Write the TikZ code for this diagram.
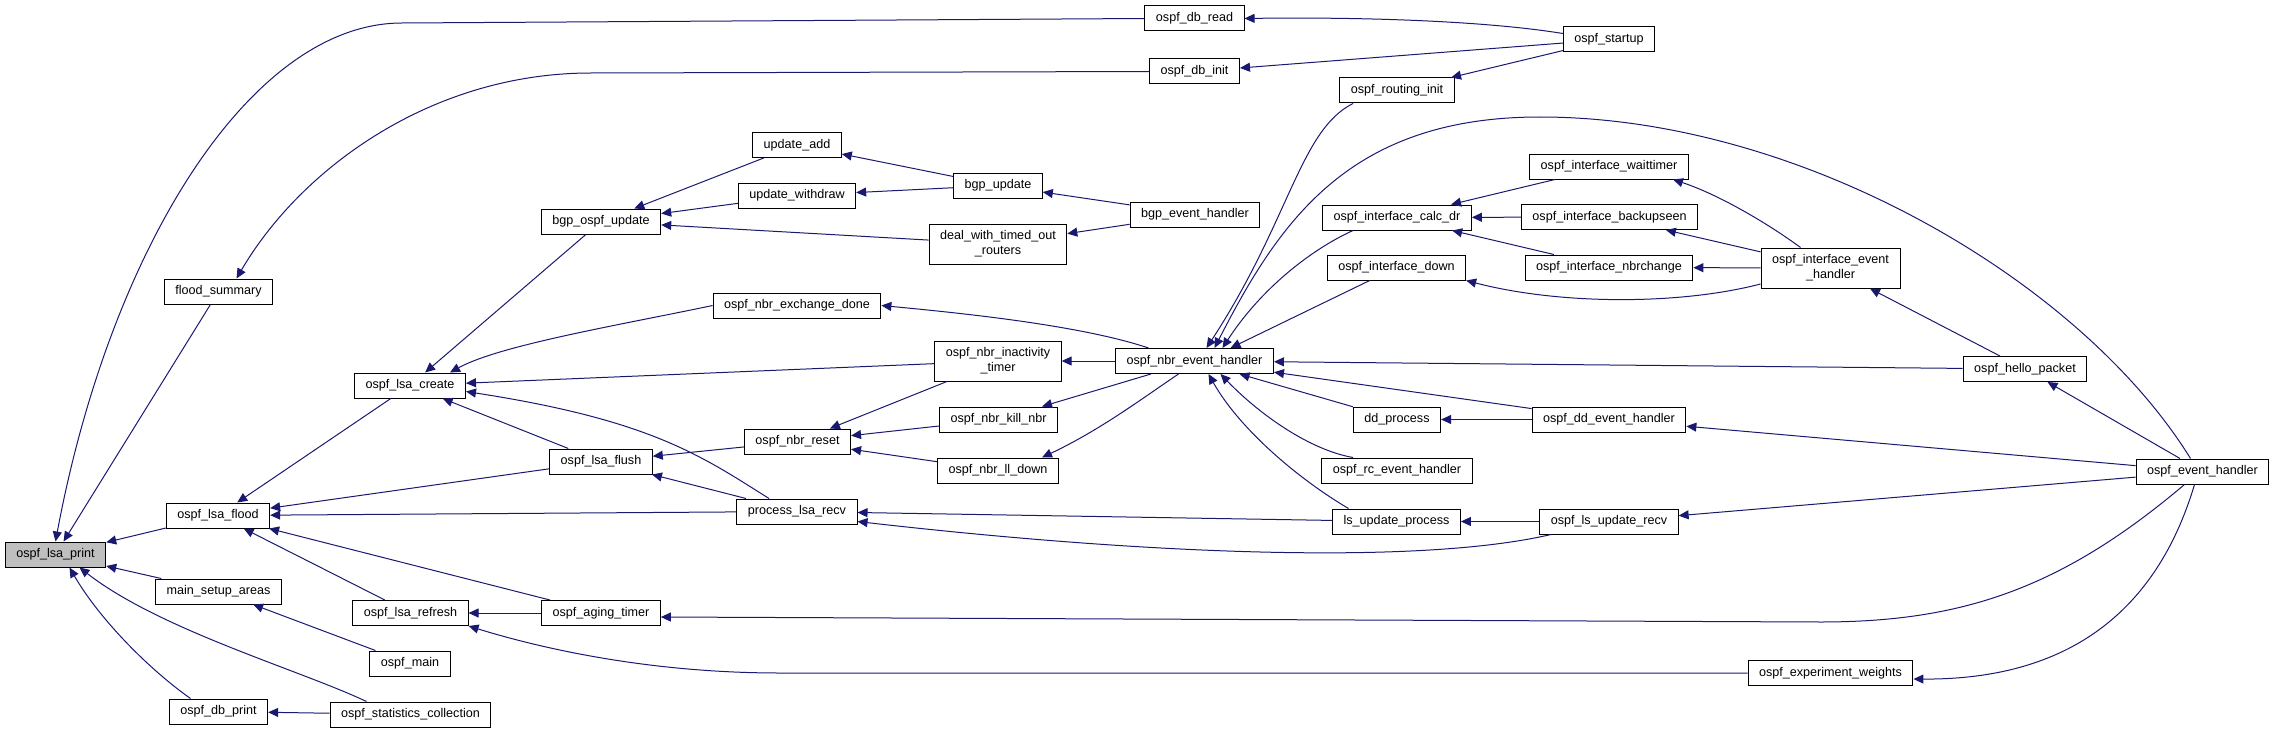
\documentclass[tikz,border=0pt]{standalone}
\usepackage{fontspec}
\setmainfont{Liberation Sans}
\usetikzlibrary{arrows.meta}
\definecolor{edgeblue}{HTML}{191970}
\definecolor{selgray}{HTML}{BFBFBF}
\tikzset{
  fn/.style={draw=black, line width=0.5pt, fill=white, inner xsep=5.5pt, inner ysep=0pt,
    minimum height=12.5pt, font=\fontsize{6.3pt}{7.6pt}\selectfont},
  fntwo/.style={fn, align=center, minimum height=20pt},
  call/.style={draw=edgeblue, line width=0.5pt, -{Triangle[length=5pt,width=4.5pt]}},
}
\begin{document}
\begin{tikzpicture}[x=0.5pt, y=-0.5pt]
  \useasboundingbox (0,0) rectangle (2275,733);
  \node[fn, fill=selgray] (lsaprint) at (55.5,554.5) {ospf\_lsa\_print};
  \node[fn] (floodsum) at (218.5,291.5) {flood\_summary};
  \node[fn] (lsaflood) at (218,515.5) {ospf\_lsa\_flood};
  \node[fn] (setup) at (218.5,591.5) {main\_setup\_areas};
  \node[fn] (dbprint) at (218.5,711.5) {ospf\_db\_print};
  \node[fn] (lsacreate) at (410,385.5) {ospf\_lsa\_create};
  \node[fn] (lsarefresh) at (410.5,613) {ospf\_lsa\_refresh};
  \node[fn] (ospfmain) at (410,663.5) {ospf\_main};
  \node[fn] (statcoll) at (410.5,714.5) {ospf\_statistics\_collection};
  \node[fn] (bgpospf) at (601,221.5) {bgp\_ospf\_update};
  \node[fn] (lsaflush) at (601,461.5) {ospf\_lsa\_flush};
  \node[fn] (agingtimer) at (601,613) {ospf\_aging\_timer};
  \node[fn] (updadd) at (797,145) {update\_add};
  \node[fn] (updwithdraw) at (797,195.5) {update\_withdraw};
  \node[fn] (exchdone) at (797,305.5) {ospf\_nbr\_exchange\_done};
  \node[fn] (nbrreset) at (797.5,441.5) {ospf\_nbr\_reset};
  \node[fn] (lsarecv) at (797,511.5) {process\_lsa\_recv};
  \node[fn] (bgpupdate) at (998,185.5) {bgp\_update};
  \node[fntwo] (dealrouters) at (998,244) {deal\_with\_timed\_out\\\_routers};
  \node[fntwo] (inactimer) at (998,361) {ospf\_nbr\_inactivity\\\_timer};
  \node[fn] (killnbr) at (998.5,419.5) {ospf\_nbr\_kill\_nbr};
  \node[fn] (lldown) at (998,470.5) {ospf\_nbr\_ll\_down};
  \node[fn] (dbread) at (1194.5,18.5) {ospf\_db\_read};
  \node[fn] (dbinit) at (1194.5,71.5) {ospf\_db\_init};
  \node[fn] (bgpevent) at (1195,214.5) {bgp\_event\_handler};
  \node[fn] (nbrevent) at (1194.5,361) {ospf\_nbr\_event\_handler};
  \node[fn] (routinit) at (1397,90.5) {ospf\_routing\_init};
  \node[fn] (calcdr) at (1397,217.5) {ospf\_interface\_calc\_dr};
  \node[fn] (ifdown) at (1396.5,267.5) {ospf\_interface\_down};
  \node[fn] (ddproc) at (1397,419.5) {dd\_process};
  \node[fn] (rcevent) at (1397,470.5) {ospf\_rc\_event\_handler};
  \node[fn] (lsupdproc) at (1396.5,521.5) {ls\_update\_process};
  \node[fn] (startup) at (1609,39.5) {ospf\_startup};
  \node[fn] (waittimer) at (1609,166.5) {ospf\_interface\_waittimer};
  \node[fn] (backupseen) at (1609.5,217) {ospf\_interface\_backupseen};
  \node[fn] (nbrchange) at (1609,267.5) {ospf\_interface\_nbrchange};
  \node[fn] (ddevent) at (1609,419.5) {ospf\_dd\_event\_handler};
  \node[fn] (lsupdrecv) at (1609,521.5) {ospf\_ls\_update\_recv};
  \node[fntwo] (ifevent) at (1830.5,268) {ospf\_interface\_event\\\_handler};
  \node[fn] (expweights) at (1830.5,673) {ospf\_experiment\_weights};
  \node[fn] (hello) at (2025,369) {ospf\_hello\_packet};
  \node[fn] (ospfevent) at (2202.5,471.5) {ospf\_event\_handler};

  \draw[call] (dbread.west) -- (402,23) .. controls (250,23) and (110,250) .. (lsaprint.north);
  \draw[call] (floodsum) -- (lsaprint);
  \draw[call] (lsaflood) -- (lsaprint);
  \draw[call] (setup) -- (lsaprint);
  \draw[call] ([xshift=-14pt]dbprint.north) .. controls (150,670) and (100,620) .. ([xshift=7pt]lsaprint.south);
  \draw[call] ([xshift=-22pt]statcoll.north) .. controls (300,670) and (160,630) .. ([xshift=12pt]lsaprint.south);
  \draw[call] (statcoll) -- (dbprint);
  \draw[call] (ospfmain) -- (setup);
  \draw[call] (dbinit.west) -- (591,73) .. controls (430,73) and (300,170) .. ([xshift=9pt]floodsum.north);

  \draw[call] (lsacreate) -- (lsaflood);
  \draw[call] (lsaflush) -- (lsaflood);
  \draw[call] (lsarecv) -- (lsaflood);
  \draw[call] (lsarefresh) -- (lsaflood);
  \draw[call] (agingtimer) -- (lsaflood);
  \draw[call] (agingtimer) -- (lsarefresh);
  \draw[call] (expweights.west) -- (780,673) .. controls (640,673) and (530,645) .. (lsarefresh.south east);

  \draw[call] (bgpospf) -- (lsacreate);
  \draw[call] (exchdone.west) .. controls (620,325) and (500,345) .. ([xshift=20pt]lsacreate.north);
  \draw[call] (inactimer) -- (lsacreate);
  \draw[call] (lsaflush) -- (lsacreate);
  \draw[call] ([xshift=-14pt]lsarecv.north) .. controls (700,455) and (650,420) .. ([yshift=-3pt]lsacreate.east);
  \draw[call] (nbrreset) -- (lsaflush);
  \draw[call] (lsarecv) -- (lsaflush);

  \draw[call] (updadd) -- (bgpospf);
  \draw[call] (updwithdraw) -- (bgpospf);
  \draw[call] (dealrouters) -- (bgpospf);
  \draw[call] (bgpupdate) -- (updadd);
  \draw[call] (bgpupdate) -- (updwithdraw);
  \draw[call] (bgpevent) -- (bgpupdate);
  \draw[call] (bgpevent) -- (dealrouters);

  \draw[call] ([xshift=-23pt]nbrevent.north) .. controls (1080,325) and (960,313) .. (exchdone.east);
  \draw[call] (nbrevent) -- (inactimer);
  \draw[call] (inactimer) -- (nbrreset);
  \draw[call] (killnbr) -- (nbrreset);
  \draw[call] (lldown) -- (nbrreset);
  \draw[call] (nbrevent) -- (killnbr);
  \draw[call] ([xshift=-8pt]nbrevent.south) .. controls (1140,400) and (1100,430) .. ([xshift=22pt]lldown.north);

  \draw[call] ([xshift=-22pt]routinit.south) .. controls (1300,130) and (1290,220) .. ([xshift=6pt]nbrevent.north);
  \draw[call] ([xshift=-6pt]ospfevent.north) .. controls (2080,280) and (1800,117) .. (1540,117)
    .. controls (1350,117) and (1280,220) .. ([xshift=10pt]nbrevent.north);
  \draw[call] ([xshift=-22pt]calcdr.south) .. controls (1310,250) and (1260,290) .. ([xshift=14pt]nbrevent.north);
  \draw[call] (ifdown) -- ([xshift=18pt]nbrevent.north);
  \draw[call] (hello) -- (nbrevent);
  \draw[call] (ddevent) -- (nbrevent);
  \draw[call] (ddproc) -- (nbrevent);
  \draw[call] ([xshift=-22pt]rcevent.north) .. controls (1310,450) and (1260,415) .. ([xshift=13pt]nbrevent.south);
  \draw[call] ([xshift=-24pt]lsupdproc.north) .. controls (1300,480) and (1240,430) .. ([xshift=7pt]nbrevent.south);

  \draw[call] ([yshift=3pt]startup.west) .. controls (1480,20) and (1350,17) .. (dbread.east);
  \draw[call] (startup) -- (dbinit);
  \draw[call] (startup) -- (routinit);
  \draw[call] (waittimer) -- (calcdr);
  \draw[call] (backupseen) -- (calcdr);
  \draw[call] (nbrchange) -- (calcdr);
  \draw[call] ([yshift=-8pt]ifevent.west) .. controls (1680,305) and (1560,305) .. (ifdown.south east);
  \draw[call] ([xshift=-15pt]ifevent.north) .. controls (1770,225) and (1720,195) .. ([xshift=32pt]waittimer.south);
  \draw[call] (ifevent) -- (backupseen);
  \draw[call] (ifevent) -- (nbrchange);
  \draw[call] (hello) -- (ifevent);
  \draw[call] (ospfevent) -- (hello);
  \draw[call] (ospfevent) -- (ddevent);
  \draw[call] (ddevent) -- (ddproc);

  \draw[call] (lsupdproc) -- (lsarecv);
  \draw[call] ([xshift=-29pt]lsupdrecv.south) .. controls (1420,565) and (1150,555) .. ([yshift=-5pt]lsarecv.east);
  \draw[call] (lsupdrecv) -- (lsupdproc);
  \draw[call] (ospfevent) -- (lsupdrecv);
  \draw[call] ([xshift=-9pt]ospfevent.south) .. controls (2060,590) and (1960,622) .. (1820,622) -- ([yshift=-2pt]agingtimer.east);
  \draw[call] ([xshift=-4pt]ospfevent.south) .. controls (2160,600) and (2080,680) .. ([yshift=-3pt]expweights.east);
\end{tikzpicture}
\end{document}
